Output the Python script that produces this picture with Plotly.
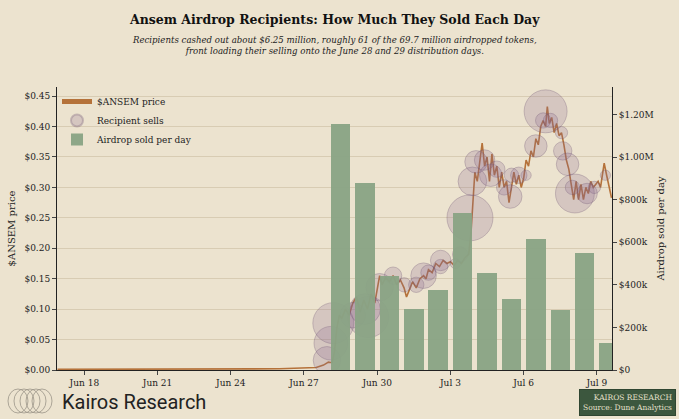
import pandas as pd
import plotly.graph_objects as go

BASE = pd.Timestamp("2024-06-27")

# price series: (days after Jun 27 00:00, price)
price_days = [-10.1, -5, -1, 0.5, 0.8, 1.0, 1.15, 1.25, 1.35, 1.45, 1.55, 1.7, 1.85, 2.0, 2.15, 2.3, 2.45, 2.6, 2.75, 2.9,
              3.0, 3.1, 3.2, 3.35, 3.5, 3.65, 3.8, 3.95, 4.1, 4.2, 4.3, 4.45, 4.6, 4.75, 4.9, 5.0, 5.1, 5.25, 5.4, 5.55,
              5.7, 5.85, 6.0, 6.15, 6.3, 6.45, 6.6, 6.75, 6.85, 6.95, 7.0, 7.1, 7.2, 7.3, 7.4, 7.5, 7.6, 7.7, 7.8, 7.9,
              8.0, 8.1, 8.2, 8.3, 8.4, 8.5, 8.6, 8.7, 8.8, 8.9, 9.0, 9.1, 9.2, 9.3, 9.4, 9.5, 9.6, 9.7, 9.8, 9.9,
              9.97, 10.05, 10.15, 10.25, 10.35, 10.45, 10.55, 10.65, 10.75, 10.85, 10.95, 11.05, 11.15, 11.25, 11.35,
              11.45, 11.55, 11.65, 11.75, 11.85, 11.95, 12.05, 12.15, 12.25, 12.3, 12.4, 12.5, 12.6]
price_vals = [0.001, 0.001, 0.002, 0.004, 0.008, 0.013, 0.012, 0.03, 0.07, 0.09, 0.085, 0.10, 0.09, 0.11, 0.12, 0.095, 0.115, 0.10, 0.125, 0.11,
              0.13, 0.155, 0.14, 0.152, 0.145, 0.155, 0.14, 0.148, 0.135, 0.12, 0.13, 0.145, 0.135, 0.15, 0.155, 0.15, 0.165, 0.16, 0.175, 0.17,
              0.18, 0.175, 0.178, 0.172, 0.18, 0.175, 0.185, 0.19, 0.23, 0.30, 0.325, 0.31, 0.345, 0.373, 0.335, 0.35, 0.31, 0.355, 0.32, 0.335,
              0.30, 0.325, 0.30, 0.31, 0.275, 0.30, 0.325, 0.305, 0.32, 0.30, 0.315, 0.345, 0.335, 0.36, 0.35, 0.38, 0.37, 0.40, 0.41, 0.40,
              0.433, 0.405, 0.415, 0.39, 0.405, 0.385, 0.39, 0.37, 0.345, 0.33, 0.305, 0.28, 0.31, 0.28, 0.305,
              0.28, 0.30, 0.29, 0.31, 0.30, 0.305, 0.31, 0.30, 0.33, 0.34, 0.32, 0.30, 0.283]

# recipient sells: (days after Jun 27, price at sale, tokens sold)
sell_days = [0.94, 1.1, 1.2, 2.63, 2.5, 2.0, 3.1, 3.65, 4.1, 4.6, 4.9, 5.1, 5.6, 5.6, 6.2, 6.4, 6.8, 6.9, 7.05, 7.4,
             7.65, 7.9, 8.2, 8.45, 8.5, 8.8, 9.1, 9.5, 9.9, 9.8, 10.1, 10.55, 10.6, 10.8, 11.1, 11.0, 11.6, 11.9, 12.35]
sell_price = [0.016, 0.044, 0.077, 0.087, 0.10, 0.09, 0.136, 0.155, 0.14, 0.14, 0.155, 0.16, 0.18, 0.17, 0.175, 0.19, 0.25, 0.31, 0.342, 0.345,
              0.32, 0.33, 0.30, 0.285, 0.32, 0.32, 0.32, 0.368, 0.425, 0.41, 0.41, 0.39, 0.36, 0.338, 0.29, 0.30, 0.29, 0.30, 0.32]
sell_amount = [180e3, 270e3, 400e3, 400e3, 225e3, 156e3, 180e3, 72e3, 49e3, 56e3, 156e3, 56e3, 100e3, 49e3, 25e3, 56e3, 506e3, 196e3, 121e3, 100e3,
               121e3, 64e3, 56e3, 132e3, 49e3, 64e3, 25e3, 121e3, 441e3, 56e3, 49e3, 36e3, 81e3, 121e3, 361e3, 49e3, 100e3, 36e3, 25e3]

bar_dates = ["2024-06-28", "2024-06-29", "2024-06-30", "2024-07-01", "2024-07-02", "2024-07-03",
             "2024-07-04", "2024-07-05", "2024-07-06", "2024-07-07", "2024-07-08", "2024-07-09"]
bar_values = [1.154e6, 0.877e6, 0.443e6, 0.286e6, 0.374e6, 0.738e6, 0.457e6, 0.332e6, 0.614e6, 0.282e6, 0.549e6, 0.125e6]

tick_dates = ["2024-06-18", "2024-06-21", "2024-06-24", "2024-06-27", "2024-06-30", "2024-07-03", "2024-07-06", "2024-07-09"]
tick_labels = ["Jun 18", "Jun 21", "Jun 24", "Jun 27", "Jun 30", "Jul 3", "Jul 6", "Jul 9"]
right_ticks = [0, 200e3, 400e3, 600e3, 800e3, 1000e3, 1200e3]
right_labels = ["$0", "$200k", "$400k", "$600k", "$800k", "$1.00M", "$1.20M"]

to_dt = lambda d: BASE + pd.Timedelta(days=d)
BG = "#ece3cf"
SERIF = "DejaVu Serif"

fig = go.Figure()
fig.add_trace(go.Bar(x=[pd.Timestamp(d) + pd.Timedelta(hours=12) for d in bar_dates], y=bar_values,
                     width=0.8 * 86400000, marker=dict(color="#8aa485", line=dict(width=0)), opacity=0.95,
                     name="Airdrop sold per day", yaxis="y2", legendrank=3))
fig.add_trace(go.Scatter(x=[to_dt(d) for d in price_days], y=price_vals, mode="lines",
                         line=dict(color="#b5723a", width=1.6), name="$ANSEM price", legendrank=1))
fig.add_trace(go.Scatter(x=[to_dt(d) for d in sell_days], y=sell_price, mode="markers",
                         marker=dict(size=sell_amount, sizemode="area", sizeref=2 * 506e3 / 46**2,
                                     color="rgba(140,105,145,0.33)", line=dict(color="rgba(110,85,115,0.45)", width=1)),
                         name="Recipient sells", legendrank=2))

fig.update_layout(
    width=679, height=419, paper_bgcolor=BG, plot_bgcolor=BG,
    margin=dict(l=57, r=67, t=87, b=49),
    font=dict(family=SERIF, size=9, color="#222"),
    showlegend=True,
    legend=dict(x=0.0, y=1.0, xanchor="left", yanchor="top", bgcolor="rgba(0,0,0,0)",
                traceorder="normal", font=dict(size=9), itemsizing="constant", tracegroupgap=0,
                itemwidth=30),
    xaxis=dict(range=[to_dt(-10.12), to_dt(12.62)], tickvals=tick_dates, ticktext=tick_labels,
               showgrid=False, showline=True, linecolor="#222", ticks="outside", ticklen=4, zeroline=False),
    yaxis=dict(range=[0, 0.465], dtick=0.05, tickformat="$.2f", showgrid=True, gridcolor="#d8ccb3",
               showline=True, linecolor="#222", ticks="outside", ticklen=4, zeroline=False,
               title=dict(text="$ANSEM price", standoff=6, font=dict(size=10))),
    yaxis2=dict(range=[0, 1.33e6], overlaying="y", side="right", tickvals=right_ticks, ticktext=right_labels,
                showgrid=False, showline=True, linecolor="#222", ticks="outside", ticklen=4, zeroline=False,
                title=dict(text="Airdrop sold per day", standoff=4, font=dict(size=10))),
    bargap=0,
)

fig.add_annotation(text="<b>Ansem Airdrop Recipients: How Much They Sold Each Day</b>", xref="paper", yref="paper",
                   x=0.5, y=1.0, yshift=77, xanchor="center", showarrow=False, font=dict(size=12.5, family=SERIF, color="#111"))
fig.add_annotation(text="<i>Recipients cashed out about $6.25 million, roughly 61 of the 69.7 million airdropped tokens,<br>front loading their selling onto the June 28 and 29 distribution days.</i>",
                   xref="paper", yref="paper", x=0.5, y=1.0, yshift=54, xanchor="center", showarrow=False,
                   font=dict(size=8.6, family=SERIF, color="#222"))

# footer logo
for cx in [18, 24, 30, 36, 42]:
    fig.add_shape(type="circle", xref="paper", yref="paper",
                  x0=(cx - 10 - 57) / 555, x1=(cx + 10 - 57) / 555,
                  y0=(370 - 413) / 283, y1=(370 - 389) / 283,
                  line=dict(color="#9a9488", width=0.8))
fig.add_annotation(text="Kairos Research", xref="paper", yref="paper", x=(60 - 57) / 555, y=(370 - 402) / 283,
                   xanchor="left", yanchor="middle", showarrow=False, font=dict(family="Roboto", size=20, color="#222"))
fig.add_annotation(text="KAIROS RESEARCH<br>Source: Dune Analytics", xref="paper", yref="paper",
                   x=(676 - 57) / 555, y=(370 - 402) / 283, xanchor="right", yanchor="middle", showarrow=False,
                   align="right", font=dict(family=SERIF, size=7.5, color="#e6e0cc"),
                   bgcolor="#3c573e", bordercolor="#2f4631", borderwidth=1, borderpad=3)

fig.write_html("out.html", config={"displayModeBar": False},
               post_script="document.body.style.margin='0';document.body.style.overflow='hidden';")
